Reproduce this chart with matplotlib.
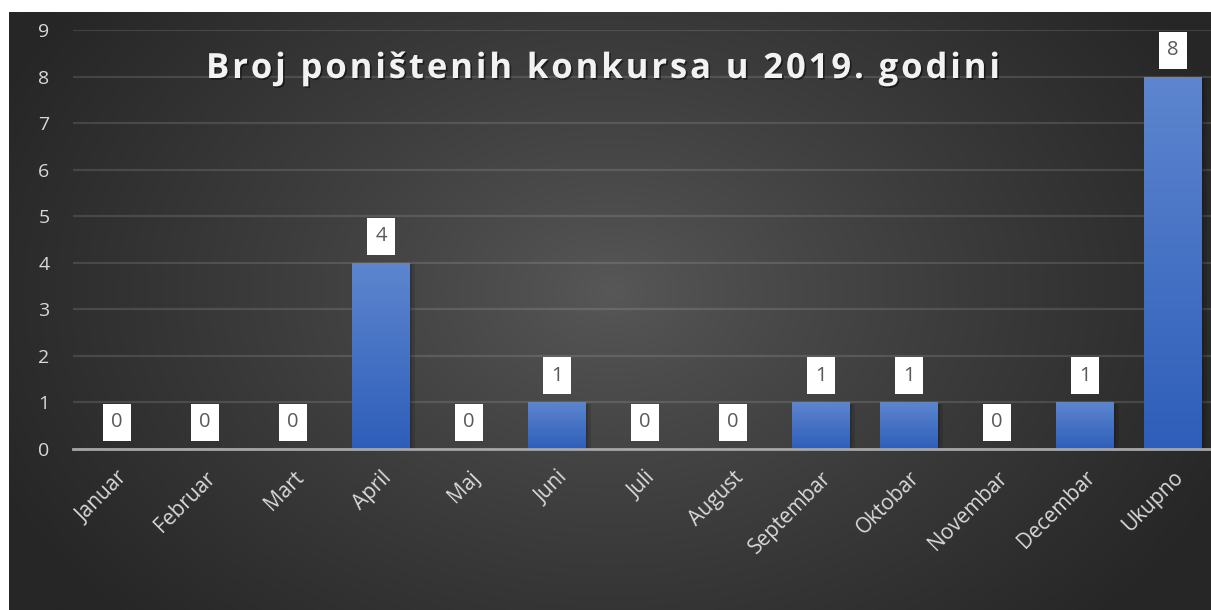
import numpy as np
import matplotlib
matplotlib.use('Agg')
import matplotlib.pyplot as plt
import matplotlib.patheffects as pe
import matplotlib.transforms as mtransforms
from matplotlib.patches import Rectangle
from matplotlib.font_manager import FontProperties, findfont, get_font

months = ['Januar', 'Februar', 'Mart', 'April', 'Maj', 'Juni', 'Juli',
          'August', 'Septembar', 'Oktobar', 'Novembar', 'Decembar', 'Ukupno']
counts = [0, 0, 0, 4, 0, 1, 0, 0, 1, 1, 0, 1, 8]
title = 'Broj poništenih konkursa u 2019. godini'

plt.rcParams['font.family'] = ['Open Sans', 'DejaVu Sans']

W, H = 1211, 610
fig = plt.figure(figsize=(W / 100, H / 100), dpi=100)
fig.patch.set_facecolor('white')

# dark radial background
bg = fig.add_axes([9 / W, 0, 1 - 9 / W, (H - 12) / H])
bg.set_axis_off()
yy, xx = np.mgrid[0:300, 0:600]
cx, cy = 300, 140
r = np.sqrt(((xx - cx) / 340.0) ** 2 + ((yy - cy) / 240.0) ** 2)
r = np.clip(r, 0, 1)
shade = 0x58 / 255 + (0x26 / 255 - 0x58 / 255) * r ** 0.85
img = np.dstack([shade, shade, shade])
bg.imshow(img, aspect='auto', extent=[0, 1, 0, 1], interpolation='bilinear')
bg.set_xlim(0, 1)
bg.set_ylim(0, 1)

# plot area
ax = fig.add_axes([73 / W, (H - 449) / H, 1144 / W, (449 - 30) / H])
ax.patch.set_alpha(0)
x = np.arange(len(months))
bars = ax.bar(x, counts, width=0.65, color='#4574c8', zorder=3)

top_c = np.array([0x5e, 0x86, 0xcf]) / 255
bot_c = np.array([0x2e, 0x5e, 0xba]) / 255
grad = np.linspace(0, 1, 256)[:, None]
grad_img = top_c[None, None, :] * (1 - grad[:, :, None]) + bot_c[None, None, :] * grad[:, :, None]
for b in bars:
    if b.get_height() <= 0:
        continue
    b.set_path_effects([pe.SimplePatchShadow(offset=(4, -1), alpha=0.12, shadow_rgbFace='black'),
                        pe.SimplePatchShadow(offset=(2, -1), alpha=0.15, shadow_rgbFace='black'),
                        pe.Normal()])
    im = ax.imshow(grad_img, aspect='auto', zorder=4,
                   extent=[b.get_x(), b.get_x() + b.get_width(), 0, b.get_height()])
    im.set_clip_path(b)

ax.set_xlim(-0.5, len(months) - 0.5)
ax.set_ylim(0, 9)
ax.set_yticks(range(10))
ax.grid(axis='y', color='white', alpha=0.12, linewidth=1.6, zorder=0)
ax.set_axisbelow(True)
for s in ['top', 'right', 'left']:
    ax.spines[s].set_visible(False)
ax.spines['bottom'].set_color('#a6a6a6')
ax.spines['bottom'].set_linewidth(2)
ax.spines['bottom'].set_zorder(5)
ax.tick_params(axis='y', length=0, pad=17, labelsize=14, labelcolor='#d9d9d9')
ax.tick_params(axis='x', length=0, pad=13, labelsize=15, labelcolor='#d9d9d9')
ax.set_xticks(x)
ax.set_xticklabels(months, rotation=45, ha='right', va='top', rotation_mode='anchor')

# data labels in white boxes
for xi, v in zip(x, counts):
    tr = fig.dpi_scale_trans + mtransforms.ScaledTranslation(xi, v + 0.57, ax.transData)
    ax.add_patch(Rectangle((-0.14, -0.185), 0.28, 0.37, transform=tr,
                           facecolor='white', edgecolor='none', zorder=6, clip_on=False))
    ax.text(xi, v + 0.57, str(v), ha='center', va='center', fontsize=14.5,
            color='#595959', zorder=7)

# title with letter spacing
t_size = 25
fp = FontProperties(family='Open Sans', weight='bold', size=t_size)
font = get_font(findfont(fp))
font.set_size(t_size, 100)
advances = []
for ch in title:
    g = font.load_char(ord(ch))
    advances.append(g.linearHoriAdvance / 65536)
tracking = (794 - sum(advances)) / (len(title) - 1)
px = 206
for ch, adv in zip(title, advances):
    if ch != ' ':
        t = fig.text(px / W, 1 - 78 / H, ch, ha='left', va='baseline',
                     fontproperties=fp, color='#f2f2f2')
        t.set_path_effects([pe.withSimplePatchShadow(offset=(1.2, -1.2), alpha=0.5,
                                                     shadow_rgbFace='black')])
    px += adv + tracking

fig.savefig('out.png', dpi=100)
